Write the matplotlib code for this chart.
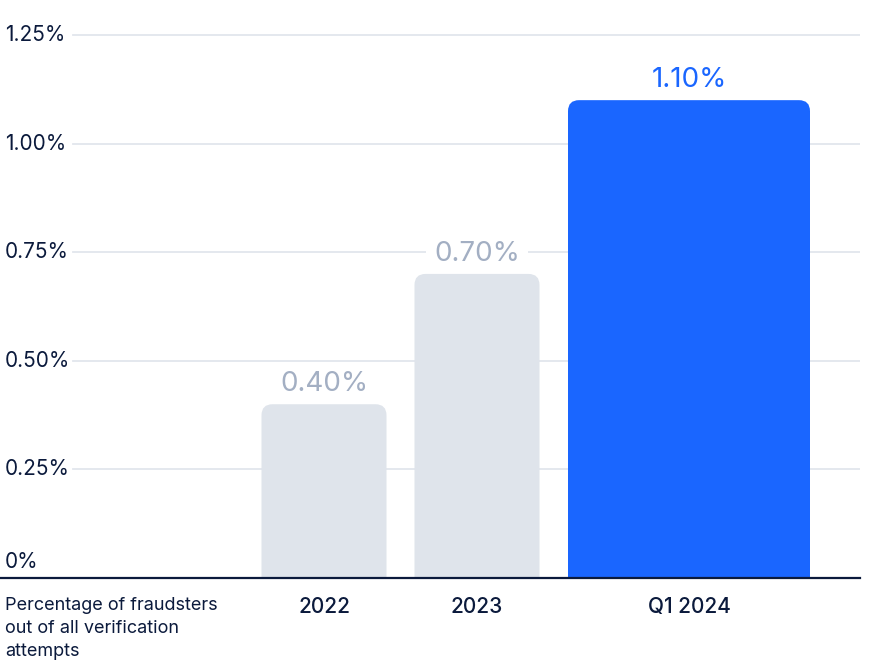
import matplotlib
matplotlib.use('Agg')
import matplotlib.pyplot as plt
from matplotlib.patches import FancyBboxPatch
from matplotlib.transforms import blended_transform_factory

plt.rcParams['font.family'] = ['Inter', 'DejaVu Sans']

# data
categories = ['2022', '2023', 'Q1 2024']
values = [0.40, 0.70, 1.10]
value_labels = ['0.40%', '0.70%', '1.10%']
y_ticks = [0, 0.25, 0.50, 0.75, 1.00, 1.25]
y_tick_labels = ['0%', '0.25%', '0.50%', '0.75%', '1.00%', '1.25%']
row_label = 'Percentage of fraudsters\nout of all verification\nattempts'

# layout (x in pixel-like units, axes spans 0..860 px)
bar_x = [324, 477, 689]
bar_w = [125, 125, 242]
bar_colors = ['#dfe4eb', '#dfe4eb', '#1a66ff']
label_colors = ['#a3afc3', '#a3afc3', '#1a66ff']
navy = '#0b1a3c'
grid_color = '#e2e6ed'

W, H = 876, 667
fig = plt.figure(figsize=(W / 100, H / 100), dpi=100)
y0_px, y125_px = 578, 35
px_per_unit = (y0_px - y125_px) / 1.25
ytop = 1.30
top_px = y0_px - ytop * px_per_unit
ax = fig.add_axes([0, (H - y0_px) / H, 860 / W, (y0_px - top_px) / H])
ax.set_xlim(0, 860)
ax.set_ylim(0, ytop)
ax.axis('off')

# gridlines
for t in y_ticks[1:]:
    ax.axhline(t, xmin=73 / 860, xmax=1, color=grid_color, lw=1.3, zorder=0)
ax.axhline(0, color=navy, lw=1.6, zorder=5, clip_on=False)

# bars with rounded tops
bars = ax.bar(bar_x, values, width=bar_w, color=bar_colors, zorder=2)
aspect = 1 / px_per_unit
for rect, c in zip(bars, bar_colors):
    rect.set_visible(False)
    x, w, h = rect.get_x(), rect.get_width(), rect.get_height()
    patch = FancyBboxPatch((x, -0.1), w, h + 0.1,
                           boxstyle='round,pad=0,rounding_size=11',
                           mutation_aspect=aspect, fc=c, ec='none', zorder=2)
    ax.add_patch(patch)

# value labels (white box hides the gridline, kept below the bars)
for x, v, lab, c in zip(bar_x, values, value_labels, label_colors):
    ax.annotate(lab, (x, v), xytext=(0, 14.5), textcoords='offset points',
                ha='center', va='center', fontsize=20, color=c, zorder=1,
                bbox=dict(boxstyle='square,pad=0.3', fc='white', ec='none'))

# y tick labels
tr = blended_transform_factory(ax.transAxes, ax.transData)
for t, lab in zip(y_ticks, y_tick_labels):
    if t == 0:
        ax.annotate(lab, (5 / 860, t), xycoords=tr, xytext=(0, 11.5),
                    textcoords='offset points', ha='left', va='center',
                    fontsize=15, color=navy)
    else:
        ax.text(5 / 860, t, lab, transform=tr, ha='left', va='center',
                fontsize=15, color=navy)

# category labels
for x, cat in zip(bar_x, categories):
    ax.annotate(cat, (x, 0), xytext=(0, -21), textcoords='offset points',
                ha='center', va='center', fontsize=15, fontweight='medium',
                color=navy, annotation_clip=False)

fig.text(5 / W, 1 - 597 / H, row_label, ha='left', va='top', fontsize=13,
         color=navy, linespacing=1.45)

fig.savefig('out.png', dpi=100)
